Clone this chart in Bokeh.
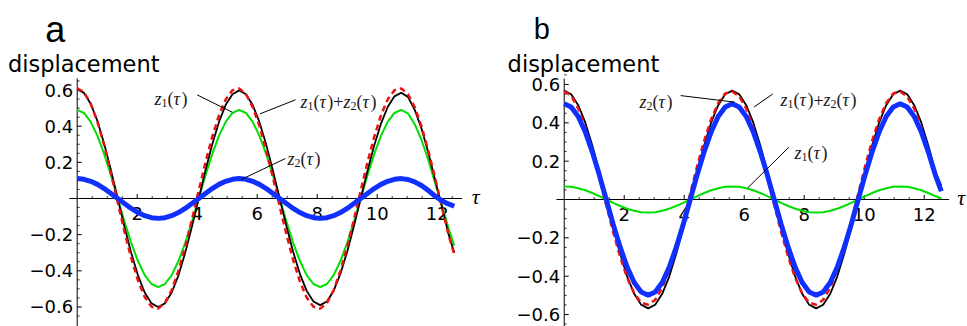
from bokeh.plotting import figure
from bokeh.layouts import row
from bokeh.models import Range1d
from bokeh.core.properties import value
from bokeh.embed import file_html
from bokeh.resources import INLINE
import math

# ---------------- data ----------------
tau_a = [0.0, 0.225, 0.45, 0.675, 0.9, 1.125, 1.35, 1.575, 1.8, 2.025,
         2.25, 2.475, 2.7, 2.925, 3.15, 3.375, 3.6, 3.825, 4.05, 4.275,
         4.5, 4.725, 4.95, 5.175, 5.4, 5.625, 5.85, 6.075, 6.3, 6.525,
         6.75, 6.975, 7.2, 7.425, 7.65, 7.875, 8.1, 8.325, 8.55, 8.775,
         9.0, 9.225, 9.45, 9.675, 9.9, 10.125, 10.35, 10.575, 10.8, 11.025,
         11.25, 11.475, 11.7, 11.925, 12.15, 12.375, 12.57]

z1_a = [0.490, 0.473, 0.424, 0.346, 0.245, 0.127, 0.0, -0.127, -0.245, -0.346, -0.424, -0.473,
        -0.490, -0.473, -0.424, -0.346, -0.245, -0.127, 0.0, 0.127, 0.245, 0.346, 0.424, 0.473,
        0.490, 0.473, 0.424, 0.346, 0.245, 0.127, 0.0, -0.127, -0.245, -0.346, -0.424, -0.473,
        -0.490, -0.473, -0.424, -0.346, -0.245, -0.127, 0.0, 0.127, 0.245, 0.346, 0.424, 0.473,
        0.490, 0.471, 0.411, 0.325, 0.215, 0.089, -0.034, -0.164, -0.260]

z2_a = [0.110, 0.106, 0.095, 0.078, 0.055, 0.028, 0.0, -0.028, -0.055, -0.078, -0.095, -0.106,
        -0.110, -0.106, -0.095, -0.078, -0.055, -0.028, 0.0, 0.028, 0.055, 0.078, 0.095, 0.106,
        0.110, 0.106, 0.095, 0.078, 0.055, 0.028, 0.0, -0.028, -0.055, -0.078, -0.095, -0.106,
        -0.110, -0.106, -0.095, -0.078, -0.055, -0.028, 0.0, 0.028, 0.055, 0.078, 0.095, 0.106,
        0.110, 0.105, 0.092, 0.072, 0.045, 0.014, -0.012, -0.030, -0.043]

sum_a = [0.605, 0.584, 0.524, 0.428, 0.302, 0.157, 0.0, -0.156, -0.301, -0.425, -0.520, -0.580,
         -0.600, -0.580, -0.520, -0.425, -0.300, -0.155, 0.0, 0.155, 0.299, 0.423, 0.518, 0.577,
         0.598, 0.577, 0.517, 0.422, 0.298, 0.154, 0.0, -0.153, -0.296, -0.418, -0.511, -0.570,
         -0.590, -0.570, -0.510, -0.416, -0.294, -0.152, 0.0, 0.152, 0.293, 0.414, 0.506, 0.565,
         0.585, 0.562, 0.491, 0.388, 0.256, 0.107, -0.041, -0.195, -0.300]

num_a = [0.610, 0.588, 0.525, 0.424, 0.293, 0.141, -0.021, -0.182, -0.329, -0.453, -0.545, -0.598,
         -0.609, -0.577, -0.506, -0.400, -0.267, -0.116, 0.043, 0.199, 0.341, 0.460, 0.548, 0.599,
         0.609, 0.577, 0.506, 0.400, 0.267, 0.116, -0.043, -0.199, -0.341, -0.460, -0.548, -0.599,
         -0.609, -0.577, -0.506, -0.400, -0.267, -0.116, 0.043, 0.199, 0.341, 0.460, 0.548, 0.599,
         0.609, 0.577, 0.506, 0.400, 0.267, 0.116, -0.043, -0.199, -0.310]

tau_b = [0.0, 0.233, 0.467, 0.7, 0.933, 1.167, 1.4, 1.633, 1.867, 2.1,
         2.333, 2.567, 2.8, 3.033, 3.267, 3.5, 3.733, 3.967, 4.2, 4.433,
         4.667, 4.9, 5.133, 5.367, 5.6, 5.833, 6.067, 6.3, 6.533, 6.767,
         7.0, 7.233, 7.467, 7.7, 7.933, 8.167, 8.4, 8.633, 8.867, 9.1,
         9.333, 9.567, 9.8, 10.033, 10.267, 10.5, 10.733, 10.967, 11.2, 11.433,
         11.667, 11.9, 12.133, 12.367, 12.57]

z1_b = [0.068, 0.066, 0.059, 0.048, 0.034, 0.018, 0.0, -0.018, -0.034, -0.048, -0.059, -0.066,
        -0.068, -0.066, -0.059, -0.048, -0.034, -0.018, 0.0, 0.018, 0.034, 0.048, 0.059, 0.066,
        0.068, 0.066, 0.059, 0.048, 0.034, 0.018, 0.0, -0.018, -0.034, -0.048, -0.059, -0.066,
        -0.068, -0.066, -0.059, -0.048, -0.034, -0.018, 0.0, 0.018, 0.034, 0.048, 0.059, 0.066,
        0.068, 0.066, 0.059, 0.048, 0.034, 0.018, 0.005]

z2_b = [0.500, 0.483, 0.433, 0.354, 0.250, 0.130, 0.0, -0.130, -0.250, -0.354, -0.433, -0.483,
        -0.500, -0.483, -0.433, -0.354, -0.250, -0.130, 0.0, 0.130, 0.250, 0.354, 0.433, 0.483,
        0.500, 0.483, 0.433, 0.354, 0.250, 0.130, 0.0, -0.130, -0.250, -0.354, -0.433, -0.483,
        -0.500, -0.483, -0.433, -0.354, -0.250, -0.130, 0.0, 0.130, 0.250, 0.354, 0.433, 0.483,
        0.500, 0.483, 0.433, 0.354, 0.250, 0.130, 0.043]

sum_b = [0.568, 0.549, 0.492, 0.402, 0.284, 0.147, 0.0, -0.147, -0.284, -0.402, -0.492, -0.549,
         -0.568, -0.549, -0.492, -0.402, -0.284, -0.147, 0.0, 0.147, 0.284, 0.402, 0.492, 0.549,
         0.568, 0.549, 0.492, 0.402, 0.284, 0.147, 0.0, -0.147, -0.284, -0.402, -0.492, -0.549,
         -0.568, -0.549, -0.492, -0.402, -0.284, -0.147, 0.0, 0.147, 0.284, 0.402, 0.492, 0.549,
         0.568, 0.549, 0.492, 0.402, 0.284, 0.147, 0.072]

num_b = [0.565, 0.542, 0.474, 0.378, 0.257, 0.117, -0.029, -0.170, -0.300, -0.409, -0.490, -0.538,
         -0.549, -0.523, -0.461, -0.368, -0.250, -0.114, 0.030, 0.175, 0.308, 0.420, 0.503, 0.553,
         0.564, 0.537, 0.474, 0.378, 0.257, 0.117, -0.029, -0.170, -0.300, -0.409, -0.490, -0.538,
         -0.549, -0.523, -0.461, -0.368, -0.250, -0.114, 0.030, 0.175, 0.308, 0.420, 0.503, 0.553,
         0.564, 0.537, 0.474, 0.378, 0.257, 0.117, 0.060]

x_major = [2, 4, 6, 8, 10, 12]
x_major_labels = ["2", "4", "6", "8", "10", "12"]
x_minor = [0.5, 1.0, 1.5, 2.5, 3.0, 3.5, 4.5, 5.0, 5.5, 6.5, 7.0, 7.5,
           8.5, 9.0, 9.5, 10.5, 11.0, 11.5, 12.5]
y_major = [-0.6, -0.4, -0.2, 0.2, 0.4, 0.6]
y_major_labels = ["\u22120.6", "\u22120.4", "\u22120.2", "0.2", "0.4", "0.6"]
y_minor = [-0.65, -0.55, -0.5, -0.45, -0.35, -0.3, -0.25, -0.15, -0.1, -0.05,
           0.05, 0.1, 0.15, 0.25, 0.3, 0.35, 0.45, 0.5, 0.55, 0.65]

# ---------------- styles ----------------
GREEN = "#00e000"
BLUE = "#1030ff"
RED = "#ee1111"
SANS = "DejaVu Sans"
SERIF = "Liberation Serif"
LAB_SIZE = 18
SUB_SIZE = 12
TICK_SIZE = "18px"
# approximate advance widths (em) of the serif label glyphs
ADV = {"z": 0.389, "\u03c4": 0.44, "(": 0.333, ")": 0.333, "+": 0.564, "1": 0.5, "2": 0.5}


def label_parts(idx_a, idx_b=None):
    parts = [("z", "it"), (idx_a, "sub"), ("(", "rm"), ("\u03c4", "it"), (")", "rm")]
    if idx_b is not None:
        parts += [("+", "rm"), ("z", "it"), (idx_b, "sub"), ("(", "rm"), ("\u03c4", "it"), (")", "rm")]
    return parts


def rich_label(p, x, y, parts):
    off = 0.0
    for txt, kind in parts:
        size = SUB_SIZE if kind == "sub" else LAB_SIZE
        p.text(x=[x], y=[y], text=[txt], x_offset=off, y_offset=(4 if kind == "sub" else 0),
               text_font=value(SERIF), text_font_size=f"{size}px",
               text_font_style=("italic" if kind == "it" else "normal"),
               text_align="left", text_baseline="alphabetic", text_color="#1a1a1a")
        off += ADV[txt] * size


def make_panel(width, xr, yr, tau, green, blue, black, red, letter, letter_pos,
               letter_size, disp_pos, x_axis_ext, y_axis_top, annots, tau_pos):
    p = figure(width=width, height=326, x_range=Range1d(*xr), y_range=Range1d(*yr),
               x_axis_type=None, y_axis_type=None, toolbar_location=None,
               output_backend="svg", min_border=0)
    p.outline_line_color = None
    p.background_fill_color = "white"
    p.border_fill_color = "white"

    # axes (Mathematica style, crossing at the origin)
    p.segment(x0=[x_axis_ext[0]], y0=[0], x1=[x_axis_ext[1]], y1=[0],
              line_color="black", line_width=1)
    p.segment(x0=[0], y0=[yr[0]], x1=[0], y1=[y_axis_top],
              line_color="black", line_width=1)
    p.ray(x=x_major, y=[0] * len(x_major), length=4.5, length_units="screen",
          angle=math.pi / 2, line_color="black", line_width=1)
    p.ray(x=x_minor, y=[0] * len(x_minor), length=2.5, length_units="screen",
          angle=math.pi / 2, line_color="black", line_width=0.8)
    p.ray(x=[0] * len(y_major), y=y_major, length=4.5, length_units="screen",
          angle=0, line_color="black", line_width=1)
    p.ray(x=[0] * len(y_minor), y=y_minor, length=2.5, length_units="screen",
          angle=0, line_color="black", line_width=0.8)
    p.text(x=x_major, y=[0] * len(x_major), text=x_major_labels, y_offset=15,
           text_font=value(SANS), text_font_size=TICK_SIZE, text_align="center",
           text_baseline="middle", text_color="black")
    p.text(x=[0] * len(y_major), y=y_major, text=y_major_labels, x_offset=-4,
           text_font=value(SANS), text_font_size=TICK_SIZE, text_align="right",
           text_baseline="middle", text_color="black")

    # curves
    p.line(tau, green, line_color=GREEN, line_width=2)
    p.line(tau, black, line_color="black", line_width=1.8)
    p.line(tau, red, line_color=RED, line_width=2.5, line_dash="6 4")
    p.line(tau, blue, line_color=BLUE, line_width=5)

    # leader lines and labels
    for parts, lx, ly, sx, sy, ex, ey in annots:
        p.segment(x0=[sx], y0=[sy], x1=[ex], y1=[ey], line_color="black", line_width=1)
        rich_label(p, lx, ly, parts)

    p.text(x=[tau_pos[0]], y=[tau_pos[1]], text=["\u03c4"], text_font=value(SERIF),
           text_font_size="22px", text_font_style="italic", text_align="left",
           text_baseline="middle", text_color="black")
    p.text(x=[disp_pos[0]], y=[disp_pos[1]], text=["displacement"], text_font=value(SANS),
           text_font_size="22.5px", text_align="left", text_baseline="alphabetic",
           text_color="black")
    p.text(x=[letter_pos[0]], y=[letter_pos[1]], text=[letter],
           text_font=value("Liberation Sans"), text_font_size=letter_size,
           text_align="center", text_baseline="alphabetic", text_color="black")
    return p


annots_a = [
    (label_parts("1"), 2.58, 0.550, 4.0, 0.573, 5.17, 0.477),
    (label_parts("1", "2"), 7.44, 0.535, 7.28, 0.546, 6.09, 0.468),
    (label_parts("2"), 7.01, 0.218, 6.94, 0.221, 5.47, 0.105),
]
annots_b = [
    (label_parts("2"), 2.51, 0.509, 3.88, 0.542, 5.68, 0.508),
    (label_parts("1", "2"), 7.21, 0.519, 6.95, 0.550, 6.33, 0.483),
    (label_parts("1"), 7.68, 0.243, 7.49, 0.273, 6.12, 0.061),
]

pa = make_panel(484, (-2.557, 13.577), (-0.708, 1.0951), tau_a, z1_a, z2_a, sum_a, num_a,
                "a", (-0.733, 0.933), "36px", (-2.31, 0.746), (-0.26, 12.83), 0.664,
                annots_a, (13.15, 0.01))
pb = make_panel(483, (-2.657, 13.443), (-0.6625, 1.0381), tau_b, z1_b, z2_b, sum_b, num_b,
                "b", (-0.75, 0.890), "29px", (-1.887, 0.709), (-0.26, 12.83), 0.631,
                annots_b, (13.1, 0.01))

layout = row(pa, pb)
open("out.html", "w").write(file_html(layout, INLINE))
